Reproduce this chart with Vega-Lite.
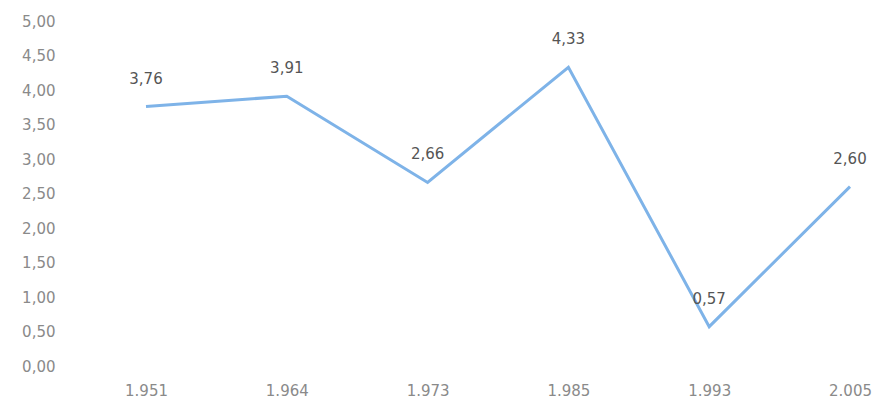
{
  "$schema": "https://vega.github.io/schema/vega-lite/v6.json",
  "width": 815,
  "height": 345,
  "autosize": {"type": "none"},
  "padding": {"left": 60, "top": 21, "right": 0, "bottom": 42},
  "background": "#ffffff",
  "config": {"view": {"stroke": null}, "font": "DejaVu Sans"},
  "data": {"values": [
    {"year": "1.951", "value": 3.76, "label": "3,76"},
    {"year": "1.964", "value": 3.91, "label": "3,91"},
    {"year": "1.973", "value": 2.66, "label": "2,66"},
    {"year": "1.985", "value": 4.33, "label": "4,33"},
    {"year": "1.993", "value": 0.57, "label": "0,57"},
    {"year": "2.005", "value": 2.60, "label": "2,60"}
  ]},
  "encoding": {
    "x": {"field": "year", "type": "ordinal", "sort": null,
      "scale": {"type": "point", "range": [86, 790], "padding": 0},
      "axis": {"title": null, "labelAngle": 0, "domain": false, "ticks": false, "labelPadding": 17,
        "labelFont": "DejaVu Sans", "labelFontSize": 15, "labelColor": "#8a8a8a"}},
    "y": {"field": "value", "type": "quantitative",
      "scale": {"domain": [0, 5], "nice": false, "zero": true},
      "axis": {"title": null, "values": [0,0.5,1,1.5,2,2.5,3,3.5,4,4.5,5], "grid": false, "domain": false, "ticks": false,
        "labelPadding": 5, "labelFont": "DejaVu Sans", "labelFontSize": 15, "labelColor": "#8a8a8a",
        "labelExpr": "replace(format(datum.value, '.2f'), '.', ',')"}}
  },
  "layer": [
    {"mark": {"type": "line", "color": "#7eb3e8", "strokeWidth": 3}},
    {"mark": {"type": "text", "dy": -28, "fontSize": 15, "color": "#555555", "font": "DejaVu Sans"},
     "encoding": {"text": {"field": "label"}}}
  ]
}
